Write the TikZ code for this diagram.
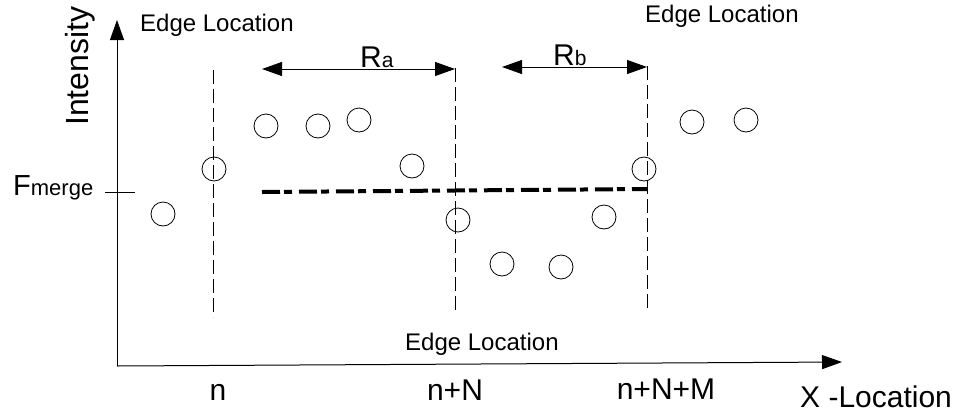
\documentclass[tikz,border=0pt]{standalone}
\usepackage{fontspec}
\setmainfont{Liberation Sans}
\usetikzlibrary{arrows.meta}
\begin{document}
\begin{tikzpicture}[x=1pt,y=-1pt,
  axis/.style={line width=1pt, -{Triangle[length=20pt,width=14pt]}},
  vdash/.style={line width=0.9pt, dash pattern=on 14pt off 5pt},
  pt/.style={circle, draw, line width=0.8pt, minimum size=24pt, inner sep=0pt},
  lbl/.style={font=\fontsize{24}{24}\selectfont, inner sep=0pt},
  bot/.style={font=\fontsize{30}{30}\selectfont, inner sep=0pt},
  rangearrow/.style={line width=1pt, {Triangle[length=20pt,width=14pt]}-{Triangle[length=20pt,width=14pt]}},
  mergeline/.style={line width=4pt, dash pattern=on 18pt off 4pt on 8pt off 7pt}]
\useasboundingbox (0,0) rectangle (964,416);
% axes
\coordinate (O) at (117,366);
\coordinate (Ytop) at (117,20);
\coordinate (Xend) at (842,362);
\draw[axis] (O) -- (Ytop);
\draw[axis] (O) -- (Xend);
% Fmerge tick
\coordinate (T1) at (105,192);
\coordinate (T2) at (135,192);
\draw[line width=0.8pt] (T1) -- (T2);
\node[inner sep=0pt, anchor=base west] (fm) at (13,195) {\fontsize{29}{29}\selectfont F\fontsize{22}{22}\selectfont merge};
% axis labels
\node[inner sep=0pt, anchor=base west, rotate=90, font=\fontsize{32}{32}\selectfont] (int) at (88,126) {Intensity};
\node[bot, anchor=base west] (xl) at (800,407) {X -Location};
\node[bot, anchor=base] (n) at (218,400) {n};
\node[bot, anchor=base] (nN) at (455,400) {n+N};
\node[bot, anchor=base] (nNM) at (666,399) {n+N+M};
% edge location labels
\node[lbl, anchor=base west] (e1) at (140,31) {Edge Location};
\node[lbl, anchor=base west] (e2) at (645,22) {Edge Location};
\node[lbl, anchor=base west] (e3) at (405,350) {Edge Location};
% dashed vertical lines
\coordinate (v1a) at (213,70);  \coordinate (v1b) at (213,317);
\coordinate (v2a) at (455,68);  \coordinate (v2b) at (455,313);
\coordinate (v3a) at (647,66);  \coordinate (v3b) at (647,312);
\draw[vdash] (v1a) -- (v1b);
\draw[vdash] (v2a) -- (v2b);
\draw[vdash] (v3a) -- (v3b);
% ranges
\coordinate (ra1) at (262,69); \coordinate (ra2) at (455,69);
\coordinate (rb1) at (502,67); \coordinate (rb2) at (647,67);
\draw[rangearrow] (ra1) -- (ra2);
\draw[rangearrow] (rb1) -- (rb2);
\node[inner sep=0pt, anchor=base west] (Ra) at (360,67) {\fontsize{30}{30}\selectfont R\fontsize{21}{21}\selectfont a};
\node[inner sep=0pt, anchor=base west] (Rb) at (553,65) {\fontsize{30}{30}\selectfont R\fontsize{21}{21}\selectfont b};
% merge line
\coordinate (m1) at (262,192); \coordinate (m2) at (647,189);
\draw[mergeline] (m1) -- (m2);
% data points
\node[pt] (p1) at (163,214) {};
\node[pt] (p2) at (214,169) {};
\node[pt] (p3) at (266,126) {};
\node[pt] (p4) at (318,126) {};
\node[pt] (p5) at (359,120) {};
\node[pt] (p6) at (412,166) {};
\node[pt] (p7) at (458,220) {};
\node[pt] (p8) at (502,264) {};
\node[pt] (p9) at (561,267) {};
\node[pt] (p10) at (604,217) {};
\node[pt] (p11) at (644,169) {};
\node[pt] (p12) at (692,122) {};
\node[pt] (p13) at (746,120) {};
\end{tikzpicture}
\end{document}
